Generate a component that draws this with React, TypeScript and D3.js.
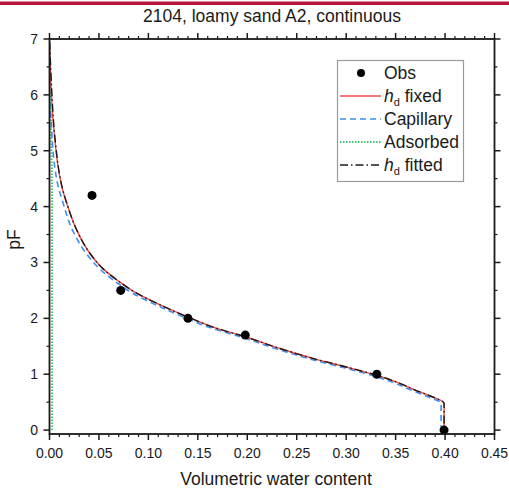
import React from 'react';
import * as d3 from 'd3';

const chartTitle = '2104, loamy sand A2, continuous';
const xLabel = 'Volumetric water content';
const yLabel = 'pF';

const xMajorTicks = [0, 0.05, 0.1, 0.15, 0.2, 0.25, 0.3, 0.35, 0.4, 0.45];
const yMajorTicks = [0, 1, 2, 3, 4, 5, 6, 7];

const obsTheta = [0.043, 0.072, 0.14, 0.198, 0.331, 0.399];
const obsPF = [4.2, 2.5, 2.0, 1.7, 1.0, 0.0];

const fixedTheta = [0.0, 0.0008, 0.002, 0.0038, 0.0066, 0.0088, 0.0133, 0.0174, 0.0275, 0.041, 0.054, 0.071, 0.088, 0.112, 0.139, 0.166, 0.198, 0.233, 0.267, 0.3, 0.331, 0.351, 0.368, 0.385, 0.399, 0.399];
const fixedPF = [6.95, 6.5, 6.0, 5.5, 5.0, 4.7, 4.3, 4.06, 3.58, 3.16, 2.89, 2.65, 2.45, 2.24, 2.03, 1.84, 1.67, 1.46, 1.28, 1.13, 0.98, 0.86, 0.73, 0.61, 0.48, 0.0];

const capTheta = [0.0, 0.0, 0.0018, 0.0035, 0.0058, 0.0092, 0.0138, 0.024, 0.038, 0.051, 0.068, 0.085, 0.109, 0.136, 0.163, 0.195, 0.23, 0.264, 0.297, 0.328, 0.348, 0.365, 0.382, 0.396, 0.396];
const capPF = [6.95, 6.0, 5.5, 5.0, 4.65, 4.33, 4.06, 3.55, 3.14, 2.88, 2.64, 2.44, 2.23, 2.02, 1.83, 1.66, 1.45, 1.27, 1.12, 0.97, 0.85, 0.72, 0.6, 0.48, 0.0];

const adsTheta = [0.0026, 0.0026, 0.0024, 0.002, 0.0013, 0.0005, 0.0];
const adsPF = [0.0, 4.0, 4.6, 5.0, 5.6, 6.2, 6.8];

const fitTheta = [0.0, 0.0012, 0.0025, 0.0042, 0.0069, 0.009, 0.0134, 0.0175, 0.0276, 0.041, 0.054, 0.071, 0.088, 0.112, 0.139, 0.166, 0.198, 0.233, 0.267, 0.3, 0.331, 0.351, 0.368, 0.385, 0.399, 0.399];
const fitPF = [6.95, 6.5, 6.0, 5.5, 5.0, 4.7, 4.3, 4.06, 3.58, 3.16, 2.89, 2.65, 2.45, 2.24, 2.03, 1.84, 1.67, 1.46, 1.28, 1.13, 0.98, 0.86, 0.73, 0.61, 0.48, 0.0];

const legendLabels = ['Obs', 'fixed', 'Capillary', 'Adsorbed', 'fitted'];

const FONT = '"Liberation Sans", Arial, sans-serif';

export default function App() {
  const W = 509;
  const H = 495;
  const left = 49.5, right = 494.5, top = 39, bottom = 434;
  const x = d3.scaleLinear().domain([0, 0.45]).range([left, right]);
  const y = d3.scaleLinear().domain([-0.07, 7]).range([bottom, top]);

  const xMinor = d3.range(0, 0.4501, 0.01).filter((v) => Math.abs(v / 0.05 - Math.round(v / 0.05)) > 1e-6);
  const yMinor = d3.range(0.5, 7, 1);

  const line = d3
    .line<[number, number]>()
    .x((d) => x(d[0]))
    .y((d) => y(d[1]))
    .curve(d3.curveMonotoneY);
  const zip = (a: number[], b: number[]) => a.map((v, i) => [v, b[i]] as [number, number]);

  const red = '#f04848';
  const blue = '#3d8ef0';
  const green = '#3cc36e';
  const ink = '#1a1a1a';

  const lx0 = 340, lx1 = 381, ltx = 384;
  const rows = [73, 96, 119, 142, 165];

  return (
    <svg width={W} height={H} style={{ position: 'absolute', left: 0, top: 0, background: '#fff' }} fontFamily={FONT}>
      <rect x={0} y={0} width={W} height={H} fill="#fff" />
      <rect x={0} y={1.5} width={W} height={3.5} fill="#b5173b" />
      <text x={272} y={22} textAnchor="middle" fontSize={17.5} fill={ink}>{chartTitle}</text>

      <defs>
        <clipPath id="plot">
          <rect x={left} y={top} width={right - left} height={bottom - top} />
        </clipPath>
      </defs>

      {xMajorTicks.map((t) => (
        <g key={'xt' + t}>
          <line x1={x(t)} x2={x(t)} y1={bottom} y2={bottom + 6} stroke={ink} strokeWidth={1.5} />
          <line x1={x(t)} x2={x(t)} y1={top} y2={top - 6} stroke={ink} strokeWidth={1.5} />
          <text x={x(t)} y={458} textAnchor="middle" fontSize={14} fill={ink}>{t.toFixed(2)}</text>
        </g>
      ))}
      {xMinor.map((t) => (
        <g key={'xm' + t}>
          <line x1={x(t)} x2={x(t)} y1={bottom} y2={bottom + 3} stroke={ink} strokeWidth={1.2} />
          <line x1={x(t)} x2={x(t)} y1={top} y2={top - 3} stroke={ink} strokeWidth={1.2} />
        </g>
      ))}
      {yMajorTicks.map((t) => (
        <g key={'yt' + t}>
          <line x1={left} x2={left - 6} y1={y(t)} y2={y(t)} stroke={ink} strokeWidth={1.5} />
          <line x1={right} x2={right + 6} y1={y(t)} y2={y(t)} stroke={ink} strokeWidth={1.5} />
          <text x={38} y={y(t) + 5} textAnchor="end" fontSize={14} fill={ink}>{t}</text>
        </g>
      ))}
      {yMinor.map((t) => (
        <g key={'ym' + t}>
          <line x1={left} x2={left - 3} y1={y(t)} y2={y(t)} stroke={ink} strokeWidth={1.2} />
          <line x1={right} x2={right + 3} y1={y(t)} y2={y(t)} stroke={ink} strokeWidth={1.2} />
        </g>
      ))}

      <g clipPath="url(#plot)" fill="none">
        <path d={line(zip(adsTheta, adsPF)) || ''} stroke={green} strokeWidth={2} strokeDasharray="1.5 1.5" />
        <path d={line(zip(capTheta, capPF)) || ''} stroke={blue} strokeWidth={1.6} strokeDasharray="6 4" />
        <path d={line(zip(fixedTheta, fixedPF)) || ''} stroke={red} strokeWidth={1.4} />
        <path d={line(zip(fitTheta, fitPF)) || ''} stroke={ink} strokeWidth={1.4} strokeDasharray="8 3 1.5 3" />
      </g>

      {obsTheta.map((t, i) => (
        <circle key={'o' + i} cx={x(t)} cy={y(obsPF[i])} r={4.5} fill="#000" />
      ))}

      <rect x={left} y={top} width={right - left} height={bottom - top} fill="none" stroke={ink} strokeWidth={1.8} />

      <text x={(left + right) / 2 + 4} y={485} textAnchor="middle" fontSize={17.5} fill={ink}>{xLabel}</text>
      <text transform={`translate(20, ${(top + bottom) / 2 + 3}) rotate(-90)`} textAnchor="middle" fontSize={17.5} fill={ink}>{yLabel}</text>

      <rect x={337.5} y={60.5} width={126} height={121} fill="#fff" stroke="#9a9a9a" strokeWidth={1.2} />
      <circle cx={361} cy={rows[0]} r={4} fill="#000" />
      <line x1={lx0} x2={lx1} y1={rows[1]} y2={rows[1]} stroke={red} strokeWidth={1.4} />
      <line x1={lx0} x2={lx1} y1={rows[2]} y2={rows[2]} stroke={blue} strokeWidth={1.6} strokeDasharray="6 4" />
      <line x1={lx0} x2={lx1} y1={rows[3]} y2={rows[3]} stroke={green} strokeWidth={2} strokeDasharray="1.5 1.5" />
      <line x1={lx0} x2={lx1} y1={rows[4]} y2={rows[4]} stroke={ink} strokeWidth={1.4} strokeDasharray="8 3 1.5 3" />
      {legendLabels.map((lab, i) => (
        <text key={'l' + i} x={ltx} y={rows[i] + 6} fontSize={17.5} fill={ink}>
          {i === 1 || i === 4 ? (
            <>
              <tspan fontStyle="italic">h</tspan>
              <tspan fontSize={11} dy={4}>d</tspan>
              <tspan dy={-4}>{' ' + lab}</tspan>
            </>
          ) : (
            lab
          )}
        </text>
      ))}
    </svg>
  );
}
